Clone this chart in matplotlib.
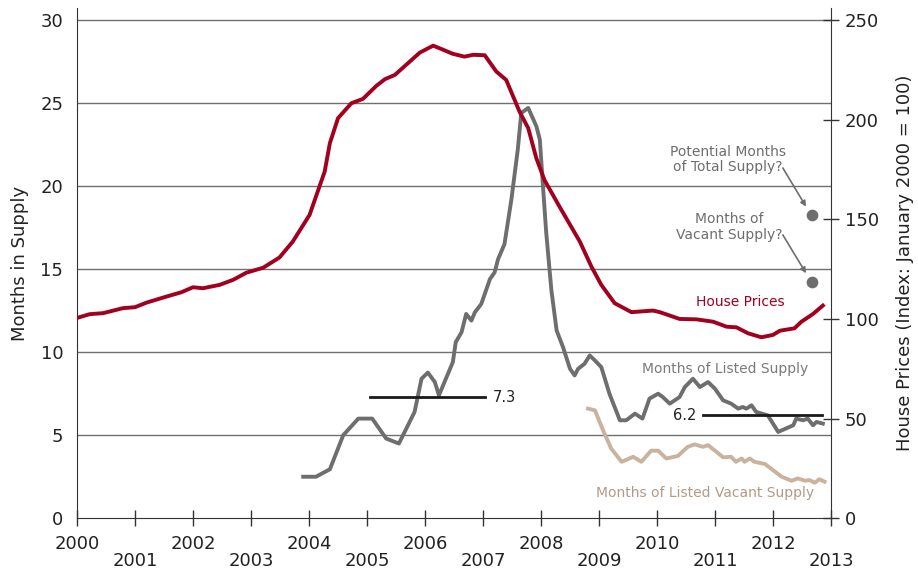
import matplotlib
matplotlib.use("Agg")
import matplotlib.pyplot as plt

# house price index (Jan 2000 = 100)
price_years = [2000.0, 2000.22, 2000.45, 2000.79, 2001.0, 2001.2, 2001.54, 2001.8, 2002.0, 2002.17,
               2002.46, 2002.69, 2002.92, 2003.21, 2003.49, 2003.72, 2004.01, 2004.18, 2004.27, 2004.36,
               2004.5, 2004.73, 2004.93, 2005.16, 2005.31, 2005.48, 2005.91, 2006.14, 2006.25, 2006.48,
               2006.68, 2006.83, 2007.03, 2007.23, 2007.4, 2007.63, 2007.78, 2007.92, 2008.06, 2008.32,
               2008.67, 2008.87, 2009.04, 2009.27, 2009.56, 2009.93, 2010.05, 2010.39, 2010.68, 2010.97,
               2011.2, 2011.37, 2011.57, 2011.8, 2012.0, 2012.12, 2012.37, 2012.49, 2012.69, 2012.86]
price_index = [100.5, 102.4, 102.9, 105.4, 105.9, 108.2, 111.2, 113.4, 115.9, 115.4,
               117.1, 119.6, 123.2, 125.7, 130.8, 138.8, 152.2, 166.4, 173.9, 188.2,
               200.7, 208.2, 210.4, 216.9, 220.3, 222.4, 233.6, 237.1, 235.8, 233.0,
               231.6, 232.5, 232.3, 224.1, 219.9, 204.0, 195.7, 180.6, 169.7, 156.3,
               138.8, 126.2, 117.1, 107.9, 103.4, 104.2, 103.4, 100.0, 99.8, 98.6,
               96.1, 95.8, 92.8, 90.8, 92.0, 94.1, 95.3, 98.6, 102.5, 106.7]

# months of listed supply
listed_years = [2003.9, 2004.12, 2004.36, 2004.59, 2004.85, 2005.09, 2005.33, 2005.55, 2005.82, 2005.94,
                2006.05, 2006.17, 2006.24, 2006.48, 2006.53, 2006.63, 2006.71, 2006.8, 2006.86, 2006.97,
                2007.12, 2007.2, 2007.26, 2007.37, 2007.49, 2007.6, 2007.66, 2007.78, 2007.92, 2007.98,
                2008.03, 2008.09, 2008.18, 2008.27, 2008.38, 2008.5, 2008.58, 2008.64, 2008.75, 2008.84,
                2008.93, 2009.04, 2009.18, 2009.36, 2009.47, 2009.62, 2009.75, 2009.87, 2010.02, 2010.1,
                2010.22, 2010.39, 2010.48, 2010.62, 2010.74, 2010.88, 2011.0, 2011.14, 2011.28, 2011.4,
                2011.48, 2011.54, 2011.63, 2011.71, 2011.91, 2012.09, 2012.35, 2012.4, 2012.52, 2012.6,
                2012.69, 2012.75, 2012.86]
listed_months = [2.5, 2.5, 2.95, 5.0, 6.0, 6.0, 4.8, 4.5, 6.4, 8.4,
                 8.77, 8.2, 7.4, 9.4, 10.6, 11.2, 12.3, 11.9, 12.4, 12.9,
                 14.4, 14.8, 15.6, 16.5, 19.2, 22.2, 24.4, 24.7, 23.6, 22.8,
                 20.2, 17.2, 13.7, 11.3, 10.3, 9.0, 8.6, 9.0, 9.3, 9.8,
                 9.5, 9.1, 7.5, 5.9, 5.9, 6.3, 6.0, 7.2, 7.5, 7.3,
                 6.9, 7.3, 7.9, 8.4, 7.9, 8.2, 7.8, 7.1, 6.9, 6.6,
                 6.7, 6.6, 6.8, 6.4, 6.2, 5.2, 5.6, 6.0, 5.9, 6.0,
                 5.6, 5.8, 5.7]

# months of listed vacant supply
vacant_years = [2008.81, 2008.93, 2009.07, 2009.21, 2009.39, 2009.59, 2009.73, 2009.9, 2010.02, 2010.16,
                2010.36, 2010.53, 2010.65, 2010.79, 2010.88, 2011.0, 2011.14, 2011.28, 2011.36, 2011.46,
                2011.51, 2011.6, 2011.68, 2011.86, 2012.0, 2012.15, 2012.32, 2012.43, 2012.55, 2012.63,
                2012.72, 2012.8, 2012.89]
vacant_months = [6.6, 6.5, 5.3, 4.2, 3.4, 3.7, 3.4, 4.07, 4.07, 3.6,
                 3.75, 4.3, 4.45, 4.3, 4.4, 4.07, 3.67, 3.7, 3.4, 3.6,
                 3.4, 3.6, 3.4, 3.27, 2.9, 2.5, 2.26, 2.4, 2.26, 2.3,
                 2.14, 2.35, 2.2]

# average reference lines: (start, end, level)
avg_2005_2007 = (2005.05, 2007.03, 7.3)
avg_2010_2012 = (2010.8, 2012.85, 6.2)

# hypothetical supply points
dot_year = 2012.67
dot_total = 18.26
dot_vacant = 14.25

year_ticks = list(range(2000, 2014))

RED = "#a1001f"
GREY = "#6e6e6e"
TAN = "#c9b39e"
TAN_TEXT = "#b39a84"
TXT = "#222222"

plt.rcParams["font.family"] = ["DejaVu Sans"]

fig = plt.figure(figsize=(9.18, 5.73), dpi=100)
ax = fig.add_axes([0.0839, 0.0955, 0.8213, 0.89])
ymax = 30.7
ax.set_xlim(2000, 2013)
ax.set_ylim(0, ymax)

for y in [5, 10, 15, 20, 25, 30]:
    ax.axhline(y, color="#707070", linewidth=1.0, zorder=1)

ax.plot(listed_years, listed_months, color=GREY, linewidth=2.8, zorder=3, solid_joinstyle="round")
ax.plot(vacant_years, vacant_months, color=TAN, linewidth=2.8, zorder=3, solid_joinstyle="round")

for x0, x1, lvl in [avg_2005_2007, avg_2010_2012]:
    ax.plot([x0, x1], [lvl, lvl], color="#1a1a1a", linewidth=2.0, zorder=4)
ax.text(avg_2005_2007[1] + 0.14, avg_2005_2007[2], "7.3", fontsize=10.5, color=TXT, va="center", ha="left")
ax.text(avg_2010_2012[0] - 0.12, avg_2010_2012[2], "6.2", fontsize=10.5, color=TXT, va="center", ha="right")

ax.scatter([dot_year, dot_year], [dot_total, dot_vacant], s=55, color=GREY, zorder=5)
ax.text(2011.22, 21.6, "Potential Months\nof Total Supply?", fontsize=10, color=GREY,
        ha="center", va="center", linespacing=1.15)
ax.text(2011.25, 17.54, "Months of\nVacant Supply?", fontsize=10, color=GREY,
        ha="center", va="center", linespacing=1.15)
arrow = dict(arrowstyle="-|>", color=GREY, lw=1.2, mutation_scale=8, shrinkA=0, shrinkB=0)
ax.annotate("", xy=(dot_year - 0.1, dot_total + 0.5), xytext=(2012.17, 21.09), arrowprops=arrow)
ax.annotate("", xy=(dot_year - 0.1, dot_vacant + 0.5), xytext=(2012.17, 17.06), arrowprops=arrow)

ax.text(2011.44, 13.0, "House Prices", fontsize=10, color=RED, ha="center", va="center")
ax.text(2011.17, 9.0, "Months of Listed Supply", fontsize=10, color="#7a7a7a", ha="center", va="center")
ax.text(2010.83, 1.55, "Months of Listed Vacant Supply", fontsize=10, color=TAN_TEXT, ha="center", va="center")

ax.set_ylabel("Months in Supply", fontsize=13, color=TXT, labelpad=8)
ax.set_yticks([0, 5, 10, 15, 20, 25, 30])
ax.tick_params(axis="y", length=0, labelsize=13, labelcolor=TXT, pad=10)

even = [y for y in year_ticks if y % 2 == 0]
odd = [y for y in year_ticks if y % 2 == 1]
ax.set_xticks(even, [str(y) for y in even])
ax.set_xticks(odd, [str(y) for y in odd], minor=True)
ax.tick_params(axis="x", which="both", direction="inout", length=12, width=1.0, color="#333333",
               labelsize=13, labelcolor=TXT)
ax.tick_params(axis="x", which="major", pad=6)
ax.tick_params(axis="x", which="minor", pad=18)

for side in ["top", "right"]:
    ax.spines[side].set_visible(False)
ax.spines["left"].set_color("#333333")
ax.spines["bottom"].set_color("#333333")

ax2 = ax.twinx()
ax2.set_ylim(0, ymax * 250 / 30)
ax2.plot(price_years, price_index, color=RED, linewidth=2.8, zorder=3, solid_joinstyle="round")
ax2.set_yticks([0, 50, 100, 150, 200, 250])
ax2.tick_params(axis="y", direction="inout", length=12, width=1.0, color="#333333",
                labelsize=13, labelcolor=TXT, pad=4)
ax2.set_ylabel("House Prices (Index: January 2000 = 100)", fontsize=13, color=TXT, labelpad=12)
for side in ["top", "left", "bottom"]:
    ax2.spines[side].set_visible(False)
ax2.spines["right"].set_color("#333333")

fig.savefig("out.png", dpi=100, facecolor="white")
